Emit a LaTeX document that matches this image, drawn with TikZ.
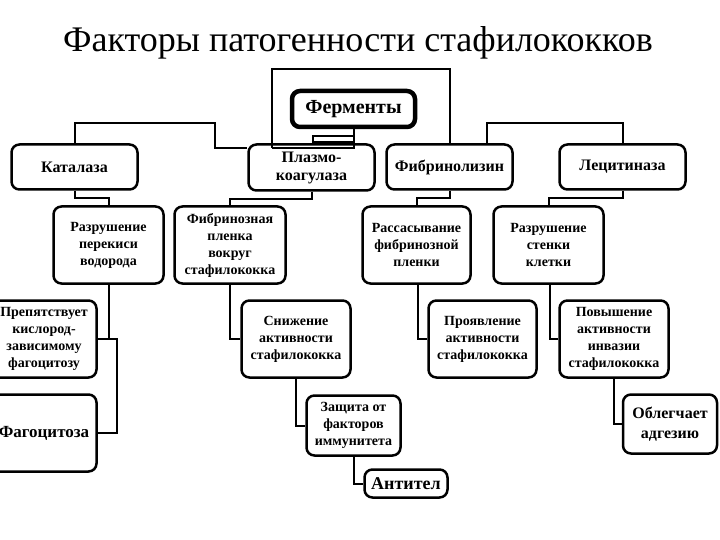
\documentclass[tikz,border=0pt]{standalone}
\usepackage{fontspec}
\setmainfont{Liberation Serif}
\usetikzlibrary{positioning}

\begin{document}
\begin{tikzpicture}[x=1pt,y=-1pt]
    \tikzstyle{bloc}=[draw,rounded corners=8pt,line width=2.5pt,align=center,inner sep=1pt,font=\bfseries\fontsize{14}{17}\selectfont]
    \tikzstyle{enzyme}=[bloc,minimum width=126,minimum height=45,font=\bfseries\fontsize{16}{18}\selectfont]
    \tikzstyle{racine}=[bloc,line width=4.5pt,font=\bfseries\fontsize{20}{22}\selectfont]
    \tikzstyle{lien}=[line width=2pt]

\useasboundingbox (0,0) rectangle (720,540);
\clip (0,0) rectangle (720,540);

% Titre
\node[anchor=base,font=\fontsize{36}{40}\selectfont] (titre) at (358,52) {Факторы патогенности стафилококков};

% Enzymes
\node[racine,minimum width=123,minimum height=36] (fer) at (353.5,109) {Ферменты};
\node[enzyme] (kat) at (74.5,167) {Каталаза};
\node[enzyme,minimum height=46] (pla) at (311.5,167.5) {Плазмо-\\коагулаза};
\node[enzyme] (fib) at (449.5,167) {Фибринолизин};
\node[enzyme] (lec) at (622.5,167) {Лецитиназа};

% Action
\node[bloc,minimum width=110,minimum height=77] (raz1) at (108.5,245) {Разрушение\\перекиси\\водорода};
\node[bloc,minimum width=111,minimum height=77] (fpl) at (230,245) {Фибринозная\\пленка\\вокруг\\стафилококка};
\node[bloc,minimum width=108,minimum height=77] (ras) at (416.5,245) {Рассасывание\\фибринозной\\пленки};
\node[bloc,minimum width=110,minimum height=77] (raz2) at (548.5,245) {Разрушение\\стенки\\клетки};

% Effets
\node[bloc,minimum width=105,minimum height=77] (pre) at (44,339) {Препятствует\\кислород-\\зависимому\\фагоцитозу};
\node[bloc,minimum width=105,minimum height=77,font=\bfseries\fontsize{17}{19}\selectfont] (fag) at (44,433) {Фагоцитоза};
\node[bloc,minimum width=109,minimum height=77] (sni) at (296,339) {Снижение\\активности\\стафилококка};
\node[bloc,minimum width=108,minimum height=77] (pro) at (482.5,339) {Проявление\\активности\\стафилококка};
\node[bloc,minimum width=109,minimum height=77] (pov) at (614,339) {Повышение\\активности\\инвазии\\стафилококка};

% Suite
\node[bloc,minimum width=94,minimum height=60] (zas) at (353.5,425.5) {Защита от\\факторов\\иммунитета};
\node[bloc,minimum width=83,minimum height=28,font=\bfseries\fontsize{18}{20}\selectfont] (ant) at (406,483.5) {Антител};
\node[bloc,minimum width=94,minimum height=59,font=\bfseries\fontsize{16}{20}\selectfont] (obl) at (670,424) {Облегчает\\адгезию};

% Liaisons du haut
\draw[lien] (kat.north) -- ++(0,-20) -- ++(140,0) |- ([yshift=-5pt]pla.north west);
\draw[lien] (fib.north) -- ++(0,-74) -| ([xshift=25pt,yshift=-5pt]pla.north west);
\draw[lien] ([xshift=25pt,yshift=-5pt]pla.north west) -- ([yshift=-5pt]pla.north -| fer.south) -- (fer.south);
\draw[lien] ([yshift=-7pt]fer.south) -- ++(-41,0) -- ++(0,6) -- ++(41,0);
\draw[lien] ([xshift=37pt]fib.north) -- ++(0,-20) -| (lec.north);

% Liaisons vers les actions
\draw[lien] (kat.south) -- ++(0,7) -| (raz1.north);
\draw[lien] (pla.south) -- ++(0,7) -| (fpl.north);
\draw[lien] (fib.south) -- ++(0,7) -| (ras.north);
\draw[lien] (lec.south) -- ++(0,7) -| (raz2.north);

% Liaisons vers les effets
\draw[lien] (raz1.south) -- (raz1.south |- pre.east);
\draw[lien] (pre.east) -- ++(19,0) |- (fag.east);
\draw[lien] (fpl.south) |- (sni.west);
\draw[lien] ([xshift=1.5pt]ras.south) |- (pro.west);
\draw[lien] ([xshift=1.5pt]raz2.south) |- (pov.west);
\draw[lien] (sni.south) |- (zas.west);
\draw[lien] (zas.south) |- (ant.west);
\draw[lien] (pov.south) |- (obl.west);

\end{tikzpicture}
\end{document}
